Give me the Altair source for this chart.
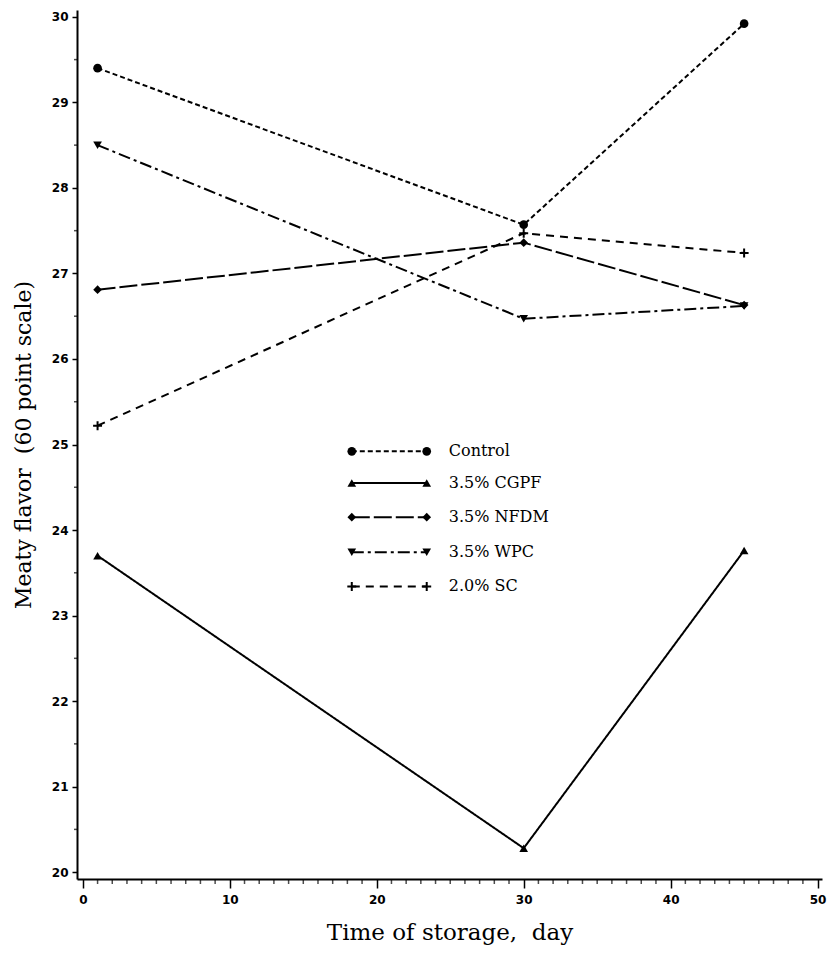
import altair as alt
import pandas as pd

# ---- data ----
days = [1, 30, 45]
series_names = ["Control", "3.5% CGPF", "3.5% NFDM", "3.5% WPC", "2.0% SC"]
control = [29.40, 27.57, 29.92]
cgpf = [23.70, 20.28, 23.76]
nfdm = [26.81, 27.36, 26.63]
wpc = [28.50, 26.47, 26.62]
sc = [25.22, 27.47, 27.24]
values = [control, cgpf, nfdm, wpc, sc]

x_ticks = [0, 10, 20, 30, 40, 50]
y_ticks = [20, 21, 22, 23, 24, 25, 26, 27, 28, 29, 30]
x_minor = [v for v in range(0, 51) if v % 10 != 0]
y_minor = [20.5 + i for i in range(10)]

# ---- styles ----
dashes = [[5, 3], [1, 0], [18, 4], [12, 4, 3, 4], [8, 6]]
plus_path = "M-1,0L1,0M0,-1L0,1"
shapes = ["circle", "triangle-up", "diamond", "triangle-down", plus_path]
filled = [True, True, True, True, False]

# legend layout (in data units)
leg_x0, leg_x1, leg_xt = 18.3, 23.4, 24.9
leg_y = [24.92, 24.55, 24.15, 23.74, 23.34]

W, H = 745, 869
XDOM = [-0.4, 50.3]
YDOM = [19.92, 30.08]

xscale = alt.Scale(domain=XDOM, nice=False, zero=False)
yscale = alt.Scale(domain=YDOM, nice=False, zero=False)

NB = "\u00a0"
xaxis = alt.Axis(values=x_ticks, tickSize=9, tickWidth=1.5, domainWidth=2,
                 domainColor="black", tickColor="black", grid=False,
                 labelFont="DejaVu Sans", labelFontWeight="bold", labelFontSize=12,
                 labelColor="black", labelPadding=6,
                 title="Time of storage," + NB + NB + "day", titleFont="DejaVu Serif",
                 titleFontSize=23, titleFontWeight="normal", titleColor="black",
                 titlePadding=16)
yaxis = alt.Axis(values=y_ticks, tickSize=5, tickWidth=1.5, domainWidth=2,
                 domainColor="black", tickColor="black", grid=False,
                 labelFont="DejaVu Sans", labelFontWeight="bold", labelFontSize=12,
                 labelColor="black", labelPadding=4,
                 title="Meaty flavor" + NB + NB + "(60 point scale)", titleFont="DejaVu Serif",
                 titleFontSize=22, titleFontWeight="normal", titleColor="black",
                 titlePadding=16)


def X(field):
    return alt.X(field, type="quantitative", scale=xscale, axis=xaxis)


def Y(field):
    return alt.Y(field, type="quantitative", scale=yscale, axis=yaxis)


layers = []
for i, name in enumerate(series_names):
    df = pd.DataFrame({"day": days, "v": values[i], "s": name})
    base = alt.Chart(df)
    line = base.mark_line(color="black", strokeWidth=2, strokeDash=dashes[i]).encode(
        x=X("day"), y=Y("v"))
    pts = base.mark_point(color="black", shape=shapes[i], filled=filled[i],
                          size=75 if filled[i] else 80, opacity=1,
                          strokeWidth=2).encode(x=X("day"), y=Y("v"))
    layers += [line, pts]

    # legend entry
    ldf = pd.DataFrame({"day": [leg_x0, leg_x1], "v": [leg_y[i], leg_y[i]], "s": name})
    lbase = alt.Chart(ldf)
    layers.append(lbase.mark_line(color="black", strokeWidth=2, strokeDash=dashes[i]).encode(
        x=X("day"), y=Y("v")))
    layers.append(lbase.mark_point(color="black", shape=shapes[i], filled=filled[i],
                                   size=75 if filled[i] else 80, opacity=1,
                                   strokeWidth=2).encode(x=X("day"), y=Y("v")))
    tdf = pd.DataFrame({"day": [leg_xt], "v": [leg_y[i]], "s": [name]})
    layers.append(alt.Chart(tdf).mark_text(align="left", baseline="middle",
                                           font="DejaVu Serif", fontSize=16,
                                           color="black").encode(
        x=X("day"), y=Y("v"), text="s:N"))

# minor ticks
xm = alt.Chart(pd.DataFrame({"day": x_minor})).mark_tick(
    color="black", size=5, thickness=1.5, orient="vertical").encode(
    x=X("day"), y=alt.value(H + 2.5))
ym = alt.Chart(pd.DataFrame({"v": y_minor})).mark_tick(
    color="black", size=3, thickness=1.5, orient="horizontal").encode(
    y=Y("v"), x=alt.value(-1.5))
layers += [xm, ym]

chart = alt.layer(*layers).properties(
    width=W, height=H,
    background="white",
    autosize=alt.AutoSizeParams(type="none"),
    padding={"left": 77, "top": 10, "right": 10, "bottom": 81},
).configure_view(stroke=None)

chart.save("out.html", embed_options={"renderer": "svg", "actions": False})
